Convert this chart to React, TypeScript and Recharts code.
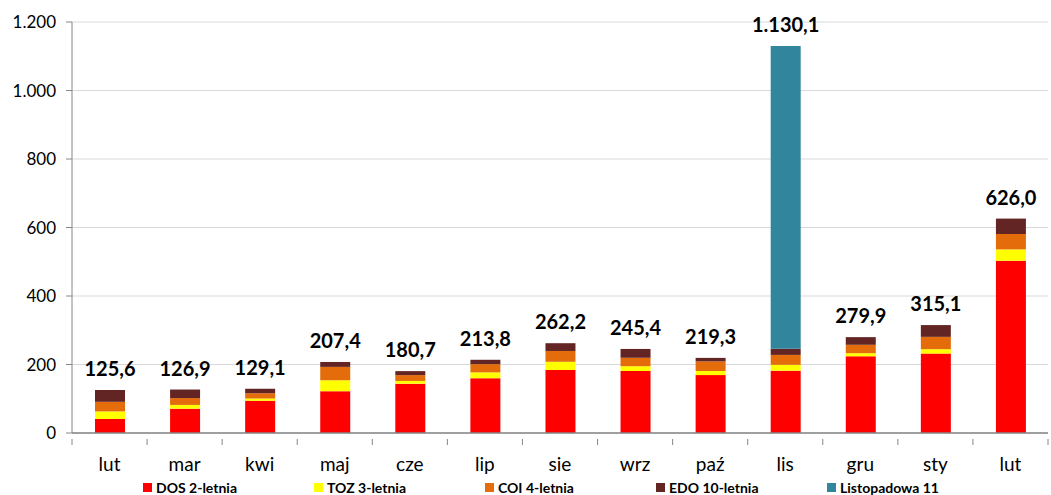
import { BarChart, Bar, XAxis, YAxis, CartesianGrid, Legend, LabelList } from "recharts";

const months = ["lut", "mar", "kwi", "maj", "cze", "lip", "sie", "wrz", "paź", "lis", "gru", "sty", "lut"];
const dos = [41, 71, 94, 122, 144, 160, 184, 181, 169, 182, 224, 232, 503];
const toz = [22, 11, 7, 32, 8, 17, 24, 14, 12, 17, 9, 12.7, 33];
const coi = [28, 20, 15, 39, 17, 24, 31.5, 24.6, 28, 29, 24.5, 36, 45];
const edo = [34.6, 24.9, 13.1, 14.4, 11.7, 12.8, 22.7, 25.8, 10.3, 18, 22.4, 34.4, 45];
const listopadowa = [0, 0, 0, 0, 0, 0, 0, 0, 0, 884.1, 0, 0, 0];
const totals = [125.6, 126.9, 129.1, 207.4, 180.7, 213.8, 262.2, 245.4, 219.3, 1130.1, 279.9, 315.1, 626.0];
const yTicks = [0, 200, 400, 600, 800, 1000, 1200];

const series = [
  { key: "dos", name: "DOS 2-letnia", color: "#FF0000" },
  { key: "toz", name: "TOZ 3-letnia", color: "#FFFF00" },
  { key: "coi", name: "COI 4-letnia", color: "#E46C0A" },
  { key: "edo", name: "EDO 10-letnia", color: "#632523" },
  { key: "lis11", name: "Listopadowa 11", color: "#31859C" },
];

const data = months.map((m, i) => ({
  month: m,
  dos: dos[i],
  toz: toz[i],
  coi: coi[i],
  edo: edo[i],
  lis11: listopadowa[i],
  // total goes on whichever series is on top of the stack
  labelEdo: listopadowa[i] ? null : totals[i],
  labelLis: listopadowa[i] ? totals[i] : null,
}));

// polish number format: 1.130,1
const fmtThousands = (s: string) => s.replace(/\B(?=(\d{3})+(?!\d))/g, ".");
const fmtLabel = (v: any) => {
  if (v === null || v === undefined) return "";
  const [a, b] = Number(v).toFixed(1).split(".");
  return fmtThousands(a) + "," + b;
};
const fmtTick = (v: any) => fmtThousands(String(v));

const FONT = "Lato, 'Open Sans', sans-serif";
const BAND = 976 / 13;
const labelStyle = { fontSize: 20, fontWeight: 700, fill: "#000", fontFamily: FONT };

const MonthTick = (props: any) => {
  const { x, y, payload, index } = props;
  return (
    <g>
      <line x1={x + BAND / 2} x2={x + BAND / 2} y1={y - 2} y2={y + 4} stroke="#868686" />
      {index === 0 && <line x1={x - BAND / 2} x2={x - BAND / 2} y1={y - 2} y2={y + 4} stroke="#868686" />}
      <text x={x} y={y + 30} textAnchor="middle" fontSize={19} fill="#000" fontFamily={FONT}>
        {payload.value}
      </text>
    </g>
  );
};

const LegendContent = () => (
  <div style={{ display: "flex", paddingLeft: 143, paddingTop: 2, fontFamily: FONT, fontWeight: 700, fontSize: 14, color: "#000" }}>
    {series.map((s) => (
      <div key={s.key} style={{ width: 171, display: "flex", alignItems: "center" }}>
        <span style={{ width: 9, height: 9, background: s.color, display: "inline-block", marginRight: 4 }} />
        {s.name}
      </div>
    ))}
  </div>
);

export default function App() {
  return (
    <div style={{ position: "absolute", left: 0, top: 0, width: 1051, height: 495, background: "#fff" }}>
      <BarChart
        width={1051}
        height={495}
        data={data}
        barSize={30}
        margin={{ top: 22, right: 3, left: 0, bottom: 0 }}
      >
        <CartesianGrid vertical={false} stroke="#D9D9D9" />
        <XAxis
          dataKey="month"
          interval={0}
          tickLine={false}
          tick={<MonthTick />}
          stroke="#868686"
          strokeWidth={1.5}
          height={44}
        />
        <YAxis
          domain={[0, 1200]}
          ticks={yTicks}
          tickFormatter={fmtTick}
          width={72}
          stroke="#868686"
          tickSize={6}
          tickMargin={10}
          tick={{ fontSize: 17, fill: "#000", fontFamily: FONT }}
        />
        <Legend verticalAlign="bottom" height={18} content={<LegendContent />} />
        {series.map((s) => (
          <Bar key={s.key} dataKey={s.key} name={s.name} stackId="a" fill={s.color} isAnimationActive={false}>
            {s.key === "edo" && (
              <LabelList dataKey="labelEdo" position="top" offset={14} formatter={fmtLabel} style={labelStyle} />
            )}
            {s.key === "lis11" && (
              <LabelList dataKey="labelLis" position="top" offset={14} formatter={fmtLabel} style={labelStyle} />
            )}
          </Bar>
        ))}
      </BarChart>
    </div>
  );
}
